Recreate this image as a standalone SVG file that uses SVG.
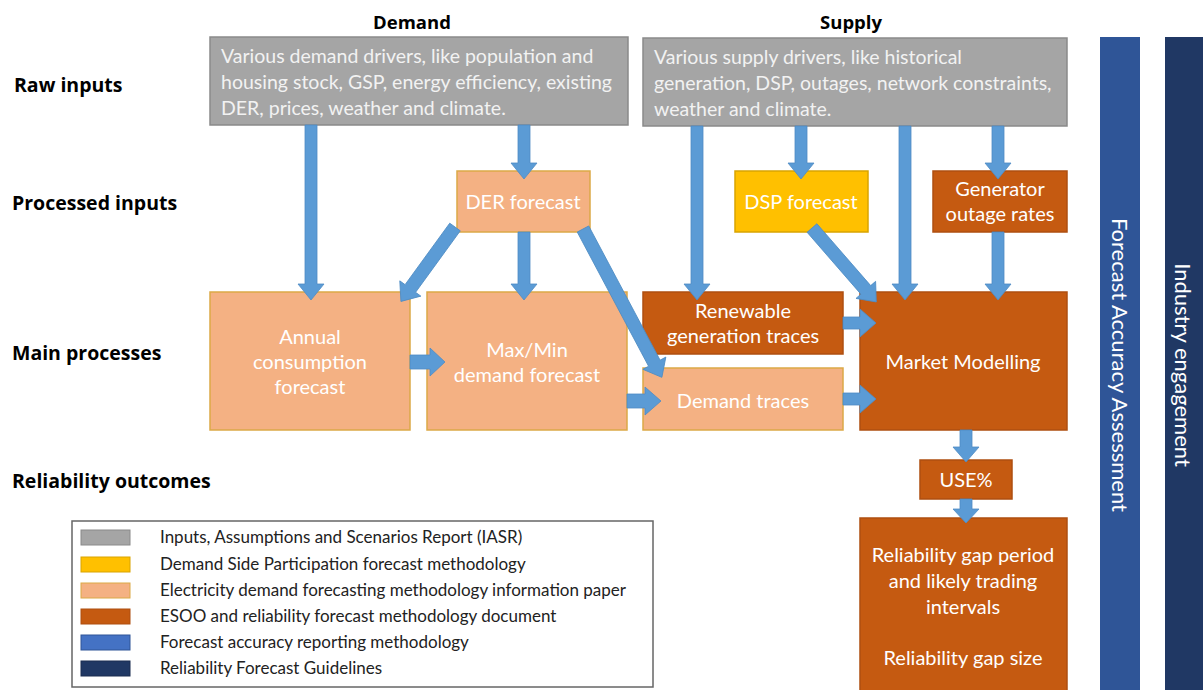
<svg xmlns="http://www.w3.org/2000/svg" width="1203" height="690" viewBox="0 0 1203 690">
<style>
.hdr{font-family:"Open Sans","Liberation Sans",sans-serif;font-weight:bold;font-size:18.5px;fill:#000}
.row{font-family:"Open Sans","Liberation Sans",sans-serif;font-weight:bold;font-size:19.5px;fill:#000}
.t{font-family:"Lato","Open Sans",sans-serif;font-size:20px;fill:#fff;text-anchor:middle}
.tg{font-family:"Lato","Open Sans",sans-serif;font-size:19.5px;fill:#f2f2f2}
.lg{font-family:"Lato","Open Sans",sans-serif;font-size:17px;fill:#222}
.vt{font-family:"Lato","Open Sans",sans-serif;font-size:22px;fill:#fff;text-anchor:middle}
.gray{fill:#a5a5a5;stroke:#8a8a8a;stroke-width:1.5}
.lt{fill:#f4b183;stroke:#dba947;stroke-width:1.5}
.ye{fill:#ffc000;stroke:#d9a400;stroke-width:1.5}
.br{fill:#c55a11;stroke:#ae4f10;stroke-width:1.5}
.ar{fill:#5b9bd5;stroke:#4f8cc4;stroke-width:0.8}
</style>

<g id="headers">
<text class="hdr" x="412" y="29" text-anchor="middle">Demand</text>
<text class="hdr" x="851" y="29" text-anchor="middle">Supply</text>
</g>
<g id="row-labels">
<text class="row" x="14" y="92">Raw inputs</text>
<text class="row" x="12" y="210">Processed inputs</text>
<text class="row" x="12" y="360">Main processes</text>
<text class="row" x="12" y="488">Reliability outcomes</text>
</g>

<g id="forecast-accuracy">
<rect x="1100" y="37" width="40" height="653" fill="#2f5597"/>
<text class="vt" transform="translate(1112,365) rotate(90)">Forecast Accuracy Assessment</text>
</g>
<g id="industry-engagement">
<rect x="1165" y="37" width="38" height="653" fill="#203864"/>
<text class="vt" transform="translate(1175,365) rotate(90)">Industry engagement</text>
</g>

<g id="demand-drivers">
<rect class="gray" x="210" y="37" width="418" height="88"/>
<text class="tg" x="221" y="63">Various demand drivers, like population and</text>
<text class="tg" x="221" y="89">housing stock, GSP, energy efficiency, existing</text>
<text class="tg" x="221" y="115">DER, prices, weather and climate.</text>
</g>
<g id="supply-drivers">
<rect class="gray" x="643" y="38" width="424" height="88"/>
<text class="tg" x="654" y="64">Various supply drivers, like historical</text>
<text class="tg" x="654" y="90">generation, DSP, outages, network constraints,</text>
<text class="tg" x="654" y="116">weather and climate.</text>
</g>

<g id="der-forecast">
<rect class="lt" x="457" y="171" width="133" height="61"/>
<text class="t" x="523" y="209">DER forecast</text>
</g>
<g id="dsp-forecast">
<rect class="ye" x="735" y="171" width="133" height="61"/>
<text class="t" x="801" y="209">DSP forecast</text>
</g>
<g id="generator-outage">
<rect class="br" x="933" y="171" width="134" height="61"/>
<text class="t" x="1000" y="196">Generator</text>
<text class="t" x="1000" y="221">outage rates</text>
</g>

<g id="annual-consumption">
<rect class="lt" x="210" y="292" width="200" height="138"/>
<text class="t" x="310" y="344">Annual</text>
<text class="t" x="310" y="369">consumption</text>
<text class="t" x="310" y="394">forecast</text>
</g>
<g id="maxmin-demand">
<rect class="lt" x="427" y="292" width="200" height="138"/>
<text class="t" x="527" y="357">Max/Min</text>
<text class="t" x="527" y="382">demand forecast</text>
</g>
<g id="renewable-traces">
<rect class="br" x="643" y="292" width="200" height="62"/>
<text class="t" x="743" y="318">Renewable</text>
<text class="t" x="743" y="343">generation  traces</text>
</g>
<g id="demand-traces">
<rect class="lt" x="643" y="368" width="200" height="62"/>
<text class="t" x="743" y="408">Demand traces</text>
</g>
<g id="market-modelling">
<rect class="br" x="860" y="292" width="207" height="138"/>
<text class="t" x="963" y="369">Market Modelling</text>
</g>
<g id="use">
<rect class="br" x="920" y="460" width="92" height="39"/>
<text class="t" x="966" y="487">USE%</text>
</g>
<g id="reliability-gap">
<rect class="br" x="860" y="518" width="207" height="175"/>
<text class="t" x="963" y="562">Reliability gap period</text>
<text class="t" x="963" y="588">and likely trading</text>
<text class="t" x="963" y="614">intervals</text>
<text class="t" x="963" y="665">Reliability gap size</text>
</g>

<g id="connectors">
<polygon class="ar" points="305,125 317,125 317,284 324,284 311,300 298,284 305,284"/>
<polygon class="ar" points="518,125 530,125 530,163 537,163 524,179 511,163 518,163"/>
<polygon class="ar" transform="translate(455,227) rotate(126)" points="0,-6.5 76,-6.5 76,-13 92,0 76,13 76,6.5 0,6.5"/>
<polygon class="ar" points="518,232 530,232 530,284 537,284 524,300 511,284 518,284"/>
<polygon class="ar" transform="translate(583,229) rotate(62)" points="0,-6.5 152,-6.5 152,-13 168,0 152,13 152,6.5 0,6.5"/>
<polygon class="ar" points="410,355 430,355 430,348 445,362 430,376 430,369 410,369"/>
<polygon class="ar" points="627,394 645,394 645,387 661,401 645,415 645,408 627,408"/>
<polygon class="ar" points="691,126 703,126 703,284 710,284 697,300 684,284 691,284"/>
<polygon class="ar" points="795,126 807,126 807,163 814,163 801,179 788,163 795,163"/>
<polygon class="ar" points="899,126 911,126 911,284 918,284 905,300 892,284 899,284"/>
<polygon class="ar" points="992,126 1004,126 1004,163 1011,163 998,179 985,163 992,163"/>
<polygon class="ar" transform="translate(812,228) rotate(49)" points="0,-6.5 82,-6.5 82,-13 98,0 82,13 82,6.5 0,6.5"/>
<polygon class="ar" points="992,232 1004,232 1004,284 1011,284 998,300 985,284 992,284"/>
<polygon class="ar" points="843,317 860,317 860,309 876,323 860,337 860,329 843,329"/>
<polygon class="ar" points="843,393 860,393 860,385 876,399 860,413 860,405 843,405"/>
<polygon class="ar" points="960,430 972,430 972,447 979,447 966,462 953,447 960,447"/>
<polygon class="ar" points="960,499 972,499 972,509 979,509 966,523 953,509 960,509"/>
</g>

<g id="legend">
<rect x="72" y="521" width="581" height="166" fill="#fff" stroke="#666" stroke-width="1.5"/>
<rect x="81" y="530" width="49" height="15" fill="#a5a5a5" stroke="#8a8a8a"/>
<rect x="81" y="557" width="49" height="15" fill="#ffc000" stroke="#d9a400"/>
<rect x="81" y="583" width="49" height="15" fill="#f4b183" stroke="#dba947"/>
<rect x="81" y="609" width="49" height="15" fill="#c55a11" stroke="#ae4f10"/>
<rect x="81" y="635" width="49" height="15" fill="#4472c4" stroke="#2f5597"/>
<rect x="81" y="661" width="49" height="15" fill="#203864" stroke="#1a2d50"/>
<text class="lg" x="160" y="543">Inputs, Assumptions and Scenarios Report (IASR)</text>
<text class="lg" x="160" y="570">Demand Side Participation forecast methodology</text>
<text class="lg" x="160" y="596">Electricity demand forecasting methodology information paper</text>
<text class="lg" x="160" y="622">ESOO and reliability forecast methodology document</text>
<text class="lg" x="160" y="648">Forecast accuracy reporting methodology</text>
<text class="lg" x="160" y="674">Reliability Forecast Guidelines</text>
</g>
</svg>
